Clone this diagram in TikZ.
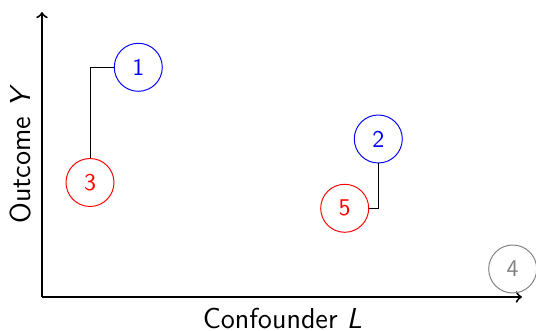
\documentclass[tikz,border=0pt]{standalone}
\begin{document}
\begin{tikzpicture}[x=0.4167pt,y=-0.4167pt,font=\sffamily,
  pt/.style={circle,draw,minimum size=20pt,inner sep=0pt,line width=0.4pt},
  axis/.style={thick,->},
  link/.style={black,line width=0.4pt}]
\useasboundingbox (0,0) rectangle (536,331);
\coordinate (O) at (42,297);
\coordinate (X) at (522,297);
\coordinate (Yt) at (42,12);
\draw[axis] (O) -- (X);
\draw[axis] (O) -- (Yt);
\node[font=\sffamily\large] (xl) at (282.5,318.5) {Confounder \textit{L}};
\node[font=\sffamily\large,rotate=90] (yl) at (21,154) {Outcome \textit{Y}};
\node[pt,blue] (n1) at (138.3,67.3) {1};
\node[pt,blue] (n2) at (378.3,139) {2};
\node[pt,red] (n3) at (90,182.5) {3};
\node[pt,red] (n5) at (344.7,208.3) {5};
\node[pt,gray] (n4) at (512.7,269) {4};
\draw[link] (n3.north) |- (n1.west);
\draw[link] (n2.south) |- (n5.east);
\end{tikzpicture}
\end{document}
